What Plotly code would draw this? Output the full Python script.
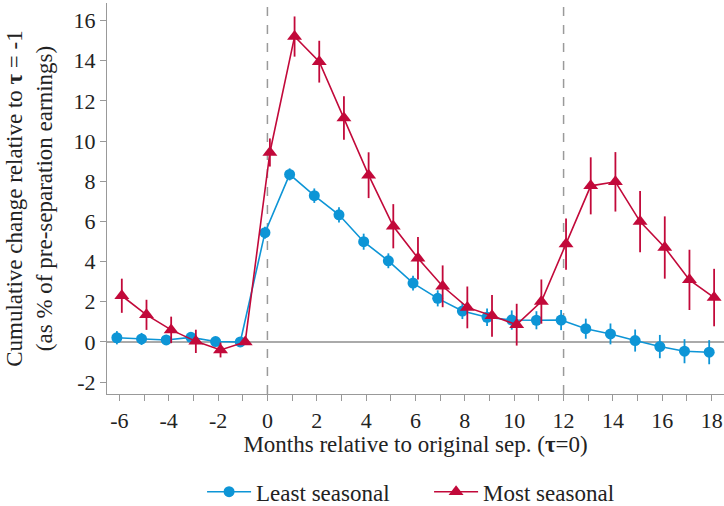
import plotly.graph_objects as go

months = list(range(-6, 19))

least_vals = [0.21, 0.15, 0.10, 0.23, 0.02, 0.0, 5.44, 8.34, 7.28, 6.33, 4.99, 4.04, 2.93,
              2.17, 1.54, 1.23, 1.09, 1.08, 1.09, 0.66, 0.40, 0.07, -0.23, -0.46, -0.51]
least_err = [0.33, 0.30, 0.25, 0.20, 0.20, 0.0, 0.30, 0.30, 0.36, 0.38, 0.40, 0.37, 0.37,
             0.40, 0.40, 0.43, 0.48, 0.45, 0.50, 0.50, 0.52, 0.55, 0.58, 0.60, 0.60]

most_vals = [2.30, 1.35, 0.60, 0.03, -0.40, 0.0, 9.43, 15.20, 13.95, 11.15, 8.30, 5.76, 4.17,
             2.77, 1.72, 1.30, 0.86, 2.01, 4.87, 7.77, 7.97, 5.99, 4.70, 3.09, 2.21]
most_err = [0.85, 0.75, 0.66, 0.58, 0.37, 0.0, 0.70, 1.00, 1.04, 1.08, 1.14, 1.10, 1.06,
            1.04, 1.04, 1.04, 1.04, 1.10, 1.27, 1.42, 1.48, 1.52, 1.55, 1.50, 1.43]

x_ticks = list(range(-6, 19, 2))
y_ticks = list(range(-2, 17, 2))

BLUE = "#0d95d6"
RED = "#c2093a"
FONT = "'Liberation Serif', 'DejaVu Serif', serif"

offset = 0.1
fig = go.Figure()
fig.add_trace(go.Scatter(
    x=[m - offset for m in months], y=least_vals, name="Least seasonal",
    mode="lines+markers",
    line=dict(color=BLUE, width=1.6),
    marker=dict(symbol="circle", size=11, color=BLUE),
    error_y=dict(type="data", array=least_err, visible=True, color=BLUE, thickness=1.8, width=0),
))
fig.add_trace(go.Scatter(
    x=[m + offset for m in months], y=most_vals, name="Most seasonal",
    mode="lines+markers",
    line=dict(color=RED, width=1.6),
    marker=dict(symbol="triangle-up", size=13, color=RED),
    error_y=dict(type="data", array=most_err, visible=True, color=RED, thickness=1.8, width=0),
))

for xv in (0, 12):
    fig.add_shape(type="line", xref="x", yref="paper", x0=xv, x1=xv, y0=0, y1=1,
                  line=dict(color="#9a9a9a", width=1.5, dash="dash"), layer="below")

fig.update_layout(
    width=724, height=506,
    margin=dict(l=107, r=0, t=3, b=112, autoexpand=False),
    plot_bgcolor="white", paper_bgcolor="white",
    font=dict(family=FONT, size=22, color="#222222"),
    showlegend=True,
    legend=dict(orientation="h", x=0.522, xanchor="center", y=-0.25, yanchor="middle",
                font=dict(size=23), itemwidth=44, tracegroupgap=0,
                entrywidthmode="pixels", entrywidth=168),
    xaxis=dict(
        range=[-6.5, 18.5], tickvals=x_ticks, ticktext=[str(v) for v in x_ticks],
        ticks="outside", ticklen=6, tickcolor="#999999", tickwidth=1.2,
        minor=dict(ticks="outside", dtick=1, tick0=0, ticklen=6, tickcolor="#999999", tickwidth=1.2),
        showline=True, linecolor="#999999", linewidth=1.2,
        showgrid=False, zeroline=False, automargin=False,
        tickfont=dict(size=22),
        title=dict(text="Months relative to original sep. (<b>τ</b>=0)", standoff=1,
                   font=dict(size=23)),
    ),
    yaxis=dict(
        range=[-2.59, 16.87], tickvals=y_ticks, ticktext=[str(v) for v in y_ticks],
        ticks="outside", ticklen=6, tickcolor="#999999", tickwidth=1.2,
        showline=True, linecolor="#999999", linewidth=1.2,
        showgrid=False, zeroline=True, zerolinecolor="#aaaaaa", zerolinewidth=1.5,
        automargin=False, tickfont=dict(size=22),
        title=dict(text="Cumulative change relative to <b>τ</b> = -1<br>(as % of pre-separation earnings)",
                   standoff=14, font=dict(size=23)),
    ),
)

fig.write_html("out.html")
